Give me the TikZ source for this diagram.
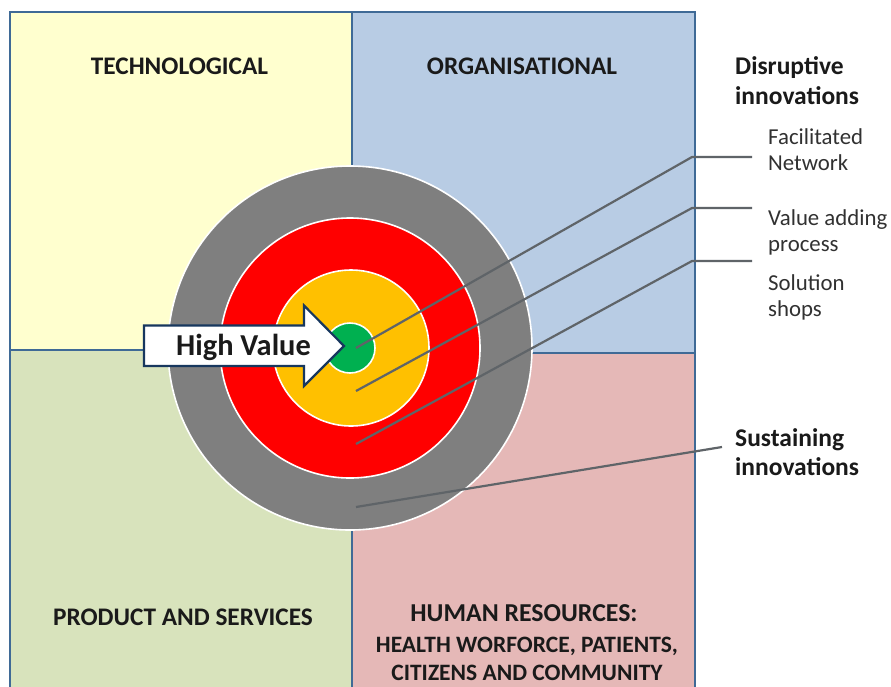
\documentclass[tikz,border=0pt]{standalone}
\usepackage{fontspec}
\setmainfont{Carlito}
\definecolor{qyellow}{HTML}{FFFFCF}
\definecolor{qblue}{HTML}{B8CCE4}
\definecolor{qgreen}{HTML}{D8E3BC}
\definecolor{qred}{HTML}{E5B8B7}
\definecolor{qedge}{HTML}{3F6A96}
\definecolor{ringgrey}{HTML}{7F7F7F}
\definecolor{ringred}{HTML}{FF0000}
\definecolor{ringorange}{HTML}{FFC000}
\definecolor{ringgreen}{HTML}{00B050}
\definecolor{leader}{HTML}{5F6468}
\definecolor{arrowedge}{HTML}{17375E}
\definecolor{inktext}{HTML}{1A1A1A}
\tikzset{
  quadrant/.style={draw=qedge,line width=1.6pt},
  ring/.style={circle,draw=white,line width=1.6pt,inner sep=0pt,minimum size=#1},
  leaderline/.style={draw=leader,line width=2.2pt},
  quadlabel/.style={font=\fontsize{25.3}{29}\selectfont\bfseries,text=inktext,inner sep=0pt},
  quadsmall/.style={font=\fontsize{23.5}{27}\selectfont\bfseries,text=inktext,inner sep=0pt},
  sidebold/.style={font=\fontsize{25.5}{29}\selectfont\bfseries,text=inktext,inner sep=0pt,align=left,anchor=base west},
  sideplain/.style={font=\fontsize{22.8}{26}\selectfont,text=inktext!90,inner sep=0pt,align=left,anchor=base west},
}
\begin{document}
\begin{tikzpicture}[x=1pt,y=-1pt]
\useasboundingbox (0,0) rectangle (891,686);
\fill[white] (0,0) rectangle (891,686);
% quadrants
\path[quadrant,fill=qyellow] (10,12) rectangle (352,350);
\path[quadrant,fill=qblue] (352,12) rectangle (695,353);
\path[quadrant,fill=qgreen] (10,350) rectangle (352,690);
\path[quadrant,fill=qred] (352,353) rectangle (695,690);
% quadrant labels
\node[quadlabel] (tech) at (179.5,66) {TECHNOLOGICAL};
\node[quadlabel] (org) at (522,66) {ORGANISATIONAL};
\node[quadlabel] (prod) at (183,617) {PRODUCT AND SERVICES};
\node[quadlabel,font=\fontsize{25.8}{29}\selectfont\bfseries] (hr) at (524,613) {HUMAN RESOURCES:};
\node[quadsmall] (hr2) at (527,646) {HEALTH WORFORCE, PATIENTS,};
\node[quadsmall] (hr3) at (527,673) {CITIZENS AND COMMUNITY};
% target
\node[ring=364pt,fill=ringgrey] (r1) at (350,348) {};
\node[ring=260pt,fill=ringred] (r2) at (350,348) {};
\node[ring=156pt,fill=ringorange] (r3) at (351,348) {};
\node[ring=50pt,fill=ringgreen] (r4) at (350,348) {};
% leader anchors
\coordinate (fa) at (356,348);
\coordinate (fb) at (692,157);
\coordinate (fc) at (752,157);
\coordinate (va) at (356,391);
\coordinate (vb) at (692,208);
\coordinate (vc) at (752,208);
\coordinate (sa) at (356,444);
\coordinate (sb) at (692,261);
\coordinate (sc) at (752,261);
\coordinate (ua) at (356,507);
\coordinate (uc) at (722,447);
\draw[leaderline] (fa) -- (fb) -- (fc);
\draw[leaderline] (va) -- (vb) -- (vc);
\draw[leaderline] (sa) -- (sb) -- (sc);
\draw[leaderline] (ua) -- (uc);
% arrow
\draw[draw=arrowedge,line width=2.2pt,fill=white,line join=miter]
  (144,325.5) -- (304,325.5) -- (304,305.5) -- (344,346) -- (304,386) -- (304,366) -- (144,366) -- cycle;
\node[font=\fontsize{30.4}{34}\selectfont\bfseries,text=inktext,inner sep=0pt] (hv) at (243.5,347) {High Value};
% side labels
\node[sidebold] (dis) at (735,74) {Disruptive};
\node[sidebold] (din) at (735,104) {innovations};
\node[sideplain] (fac) at (768,144) {Facilitated};
\node[sideplain] (net) at (768,170) {Network};
\node[sideplain] (val) at (768,225) {Value adding};
\node[sideplain] (pro) at (768,251) {process};
\node[sideplain] (sol) at (768,290) {Solution};
\node[sideplain] (sho) at (768,316) {shops};
\node[sidebold] (sus) at (735,446) {Sustaining};
\node[sidebold] (sin) at (735,475) {innovations};
\end{tikzpicture}
\end{document}
